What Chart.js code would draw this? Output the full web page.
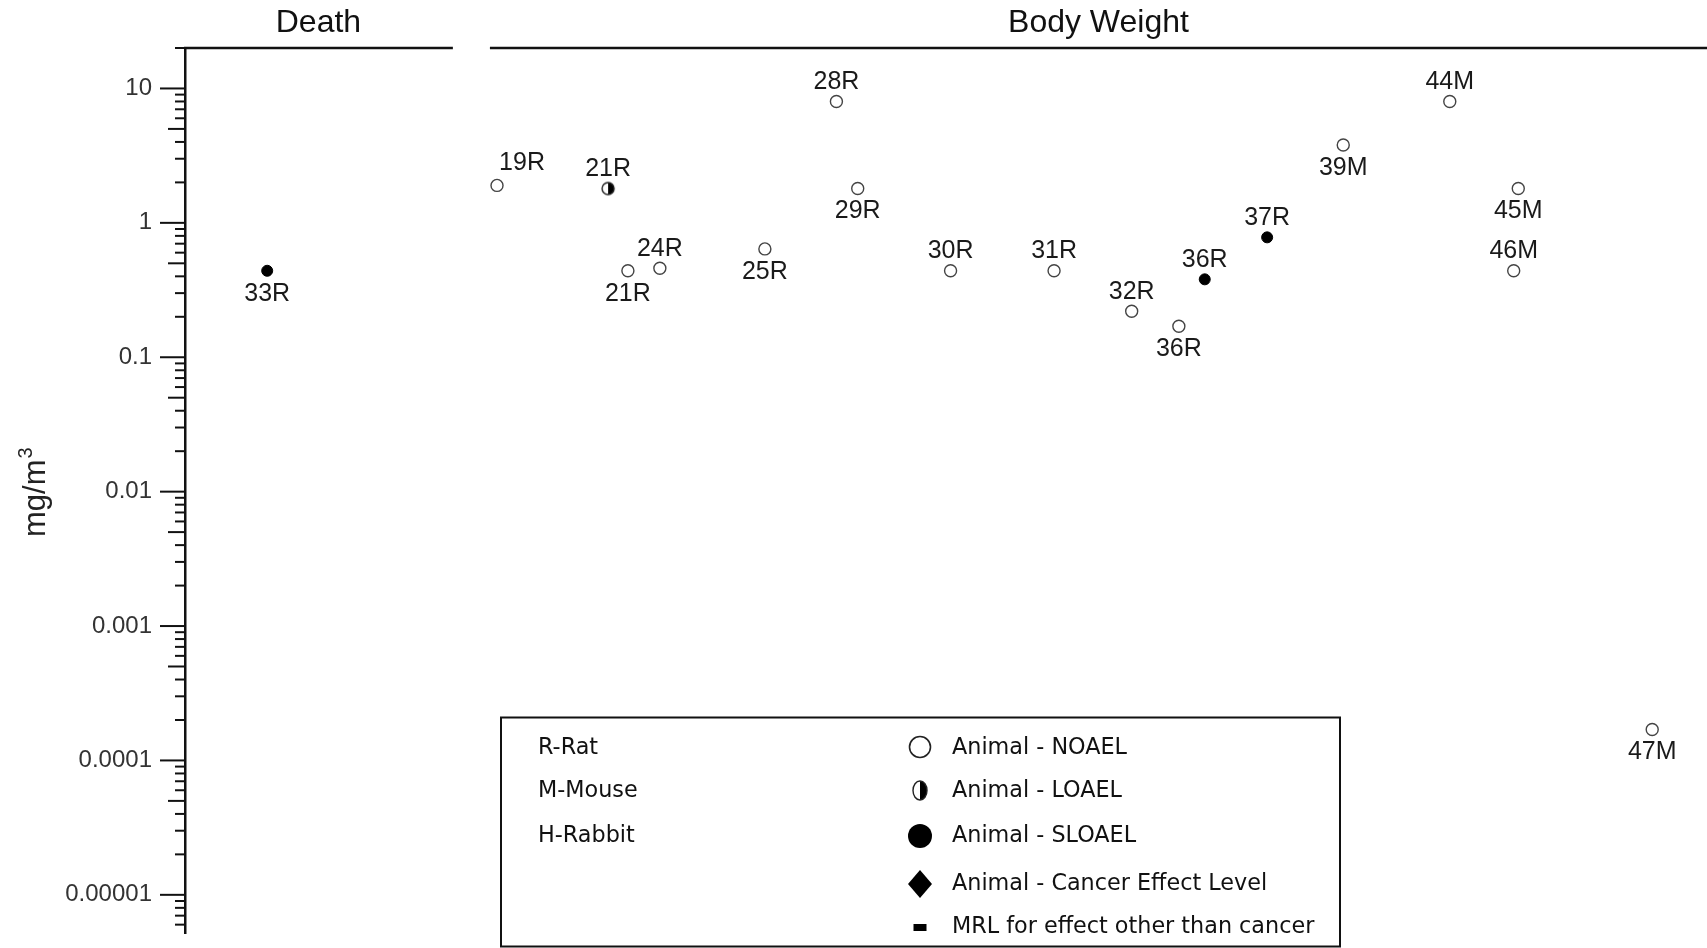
<!DOCTYPE html>
<html>
<head>
<meta charset="utf-8">
<script src="https://cdn.jsdelivr.net/npm/chart.js@4.4.1/dist/chart.umd.min.js"></script>
<style>
  html, body { margin: 0; padding: 0; background: #fff; overflow: hidden; }
  canvas { display: block; }
</style>
</head>
<body>
<canvas id="lse" width="1707" height="948"></canvas>
<script>
// one entry per study point: name, horizontal slot (0-100 across the plot), dose (mg/m3), effect level
const studyLabels = ['33R', '19R', '21R', '21R', '24R', '25R', '28R', '29R', '30R', '31R', '32R', '36R', '36R', '37R', '39M', '44M', '45M', '46M', '47M'];
const studySlots  = [5.4, 20.5, 27.8, 29.1, 31.2, 38.1, 42.8, 44.2, 50.3, 57.1, 62.2, 65.3, 67.0, 71.1, 76.1, 83.1, 87.6, 87.3, 96.4];
const doses       = [0.44, 1.9, 1.8, 0.44, 0.46, 0.64, 8, 1.8, 0.44, 0.44, 0.22, 0.17, 0.38, 0.78, 3.8, 8, 1.8, 0.44, 0.00017];
const effects     = ['SLOAEL', 'NOAEL', 'LOAEL', 'NOAEL', 'NOAEL', 'NOAEL', 'NOAEL', 'NOAEL', 'NOAEL', 'NOAEL', 'NOAEL', 'NOAEL', 'SLOAEL', 'SLOAEL', 'NOAEL', 'NOAEL', 'NOAEL', 'NOAEL', 'NOAEL'];
// where each name sits relative to its marker
const labelSide   = ['below', 'right', 'above', 'below', 'above', 'below', 'above', 'below', 'above', 'above', 'above', 'below', 'above', 'above', 'below', 'above', 'below', 'above', 'below'];

// panel headers across the top
const panelNames = ['Death', 'Body Weight'];
const panelFrom  = [0, 20.1];
const panelTo    = [17.6, 100];

const yTickValues = [10, 1, 0.1, 0.01, 0.001, 0.0001, 0.00001];
const yTickLabels = ['10', '1', '0.1', '0.01', '0.001', '0.0001', '0.00001'];

const speciesKey = ['R-Rat', 'M-Mouse', 'H-Rabbit'];
const effectKey  = ['Animal - NOAEL', 'Animal - LOAEL', 'Animal - SLOAEL', 'Animal - Cancer Effect Level', 'MRL for effect other than cancer'];

const SANS = "'Liberation Sans', Arial, sans-serif";

function halfDot(rx, ry) {
    const c = document.createElement('canvas');
    c.width = Math.ceil(rx * 2 + 4);
    c.height = Math.ceil(ry * 2 + 4);
    const g = c.getContext('2d');
    const cx = c.width / 2, cy = c.height / 2;
    g.beginPath();
    g.ellipse(cx, cy, rx, ry, 0, -Math.PI / 2, Math.PI / 2);
    g.closePath();
    g.fillStyle = '#000';
    g.fill();
    g.beginPath();
    g.ellipse(cx, cy, rx, ry, 0, 0, Math.PI * 2);
    g.lineWidth = 1.4;
    g.strokeStyle = '#222';
    g.stroke();
    return c;
}

const styleFor = {
    NOAEL:  { pointStyle: 'circle', pointRadius: 6, pointBackgroundColor: '#fff', pointBorderColor: '#444', pointBorderWidth: 1.4 },
    LOAEL:  { pointStyle: halfDot(6, 6), pointRadius: 6 },
    SLOAEL: { pointStyle: 'circle', pointRadius: 5.5, pointBackgroundColor: '#000', pointBorderColor: '#000', pointBorderWidth: 1 }
};

const datasets = ['NOAEL', 'LOAEL', 'SLOAEL'].map(level => {
    const idx = effects.map((e, i) => e === level ? i : -1).filter(i => i >= 0);
    return Object.assign({
        label: level,
        data: idx.map(i => ({ x: studySlots[i], y: doses[i] })),
        names: idx.map(i => studyLabels[i]),
        sides: idx.map(i => labelSide[i]),
        showLine: false
    }, styleFor[level]);
});

// names next to each marker
const pointNames = {
    id: 'pointNames',
    afterDatasetsDraw(chart) {
        const ctx = chart.ctx;
        ctx.save();
        ctx.font = '25px ' + SANS;
        ctx.fillStyle = '#1a1a1a';
        ctx.textAlign = 'center';
        ctx.textBaseline = 'middle';
        chart.data.datasets.forEach((ds, d) => {
            chart.getDatasetMeta(d).data.forEach((pt, i) => {
                let x = pt.x, y = pt.y;
                if (ds.sides[i] === 'above') y -= 19.5;
                else if (ds.sides[i] === 'below') y += 23;
                else { x += 25; y -= 22; }
                ctx.fillText(ds.names[i], x, y);
            });
        });
        ctx.restore();
    }
};

function keySymbol(ctx, i, x, y) {
    ctx.beginPath();
    if (i === 0) {
        ctx.arc(x, y, 10.5, 0, Math.PI * 2);
        ctx.fillStyle = '#fff';
        ctx.fill();
        ctx.lineWidth = 1.6;
        ctx.strokeStyle = '#222';
        ctx.stroke();
    } else if (i === 1) {
        const img = halfDot(7, 9.5);
        ctx.drawImage(img, x - img.width / 2, y - img.height / 2);
    } else if (i === 2) {
        ctx.arc(x, y, 12, 0, Math.PI * 2);
        ctx.fillStyle = '#000';
        ctx.fill();
    } else if (i === 3) {
        ctx.moveTo(x, y - 14);
        ctx.lineTo(x + 12, y);
        ctx.lineTo(x, y + 14);
        ctx.lineTo(x - 12, y);
        ctx.closePath();
        ctx.fillStyle = '#000';
        ctx.fill();
    } else {
        ctx.fillStyle = '#000';
        ctx.fillRect(x - 6.5, y - 3.5, 13, 7);
    }
}

// log ticks, axis unit, panel headers and the key box
const frame = {
    id: 'frame',
    afterDraw(chart) {
        const { ctx, chartArea, scales: { x, y } } = chart;
        ctx.save();
        ctx.strokeStyle = '#111';
        ctx.lineWidth = 2;
        y.ticks.forEach(t => {
            const py = y.getPixelForValue(t.value);
            const k = Math.round(t.value / Math.pow(10, Math.floor(Math.log10(t.value) + 1e-9)));
            const len = k === 1 ? 25 : (k === 5 ? 17 : 10);
            ctx.beginPath();
            ctx.moveTo(chartArea.left - len, py);
            ctx.lineTo(chartArea.left, py);
            ctx.stroke();
        });

        // mg/m3 with a raised 3, reading upwards
        ctx.save();
        ctx.translate(45, 537);
        ctx.rotate(-Math.PI / 2);
        ctx.fillStyle = '#222';
        ctx.textAlign = 'left';
        ctx.textBaseline = 'alphabetic';
        ctx.font = '31px ' + SANS;
        ctx.fillText('mg/m', 0, 0);
        const w = ctx.measureText('mg/m').width;
        ctx.font = '20px ' + SANS;
        ctx.fillText('3', w + 1, -13);
        ctx.restore();

        ctx.lineWidth = 2.5;
        ctx.font = '32px ' + SANS;
        ctx.fillStyle = '#111';
        ctx.textAlign = 'center';
        ctx.textBaseline = 'middle';
        panelNames.forEach((name, i) => {
            const x0 = x.getPixelForValue(panelFrom[i]) - 1;
            const x1 = x.getPixelForValue(panelTo[i]);
            ctx.beginPath();
            ctx.moveTo(x0, chartArea.top);
            ctx.lineTo(x1, chartArea.top);
            ctx.stroke();
            ctx.fillText(name, (x0 + x1) / 2, chartArea.top - 25);
        });

        const bx = 501, by = 717.5, bw = 839, bh = 229;
        ctx.lineWidth = 2;
        ctx.strokeRect(bx, by, bw, bh);
        const rows = [748, 791.5, 836.5, 884, 927.5];
        const symRows = [747, 790.5, 836, 884, 927.5];
        ctx.font = "22.3px 'DejaVu Sans', sans-serif";
        ctx.textAlign = 'left';
        ctx.fillStyle = '#111';
        speciesKey.forEach((s, i) => ctx.fillText(s, 538, rows[i]));
        effectKey.forEach((s, i) => {
            keySymbol(ctx, i, 920, symRows[i]);
            ctx.fillStyle = '#111';
            ctx.fillText(s, 952, rows[i]);
        });
        ctx.restore();
    }
};

const ctx = document.getElementById('lse').getContext('2d');
window.lsePlot = new Chart(ctx, {
    type: 'scatter',
    data: { datasets: datasets },
    options: {
        responsive: false,
        animation: false,
        layout: { autoPadding: false, padding: { top: 48, bottom: 15, left: 0, right: 0 } },
        plugins: {
            legend: { display: false },
            tooltip: { enabled: false }
        },
        scales: {
            x: { type: 'linear', min: 0, max: 100, display: false },
            y: {
                type: 'logarithmic',
                position: 'left',
                min: 5.2e-6,
                max: 20,
                afterFit(scale) {
                    scale.width = 185;
                    scale.paddingTop = 0;
                    scale.paddingBottom = 0;
                },
                afterBuildTicks(scale) {
                    const ticks = [];
                    for (let e = -6; e <= 1; e++) {
                        for (let k = 1; k <= 9; k++) {
                            const v = Number((k * Math.pow(10, e)).toPrecision(6));
                            if (v >= scale.min && v <= scale.max) ticks.push({ value: v });
                        }
                    }
                    scale.ticks = ticks;
                },
                grid: { display: true, drawOnChartArea: false, drawTicks: true, tickLength: 25, tickColor: 'rgba(0,0,0,0)' },
                border: { display: true, color: '#111', width: 2.5 },
                ticks: {
                    autoSkip: false,
                    padding: 8,
                    color: '#333',
                    font: { family: SANS, size: 24 },
                    callback(value) {
                        const i = yTickValues.findIndex(v => Math.abs(v - value) < v * 1e-6);
                        return i >= 0 ? yTickLabels[i] : '';
                    }
                }
            }
        }
    },
    plugins: [pointNames, frame]
});
</script>
</body>
</html>
